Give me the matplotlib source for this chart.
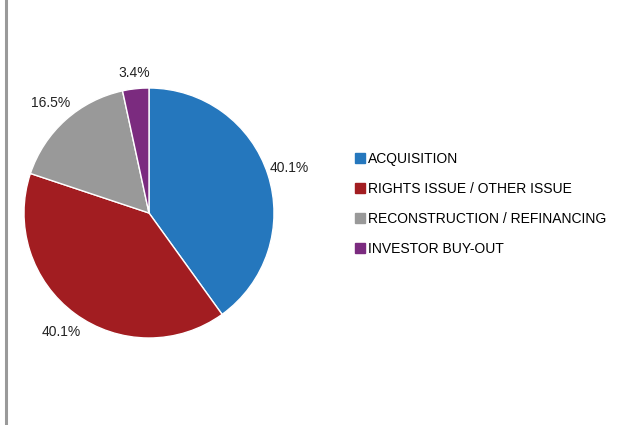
import matplotlib
matplotlib.use("Agg")
import matplotlib.pyplot as plt
from matplotlib.lines import Line2D

categories = ["ACQUISITION", "RIGHTS ISSUE / OTHER ISSUE",
              "RECONSTRUCTION / REFINANCING", "INVESTOR BUY-OUT"]
shares = [40.1, 40.1, 16.5, 3.4]
colors = ["#2577BD", "#A21D21", "#999999", "#7B2B7F"]

plt.rcParams["font.family"] = ["Liberation Sans", "DejaVu Sans"]

fig = plt.figure(figsize=(6.31, 4.25), dpi=100)

# grey frame line on the left edge
fig.add_artist(Line2D([5.5 / 631, 5.5 / 631], [0, 1], color="#9a9a9a", lw=2.2,
                      transform=fig.transFigure))

ax = fig.add_axes([24 / 631, 87 / 425, 250 / 631, 250 / 425])
wedges, texts, pcts = ax.pie(
    shares, colors=colors, startangle=90, counterclock=False,
    autopct=lambda p: "%.1f%%" % p, pctdistance=1.18,
    wedgeprops=dict(edgecolor="white", linewidth=1),
    textprops=dict(fontsize=10, color="#222222"))
for t in pcts:
    t.set_clip_on(False)
# the small slice label sits a bit closer to the pie
x, y = pcts[3].get_position()
pcts[3].set_position((x * 1.13 / 1.18, y * 1.13 / 1.18))
ax.set_xlim(-1, 1)
ax.set_ylim(-1, 1)
ax.set_aspect("equal")

handles = [Line2D([], [], marker="s", ls="none", markersize=7,
                  color=c) for c in colors]
fig.legend(handles, categories, loc="upper left",
           bbox_to_anchor=(350 / 631, 1 - 146 / 425), frameon=False,
           fontsize=10, handlelength=0.7, handletextpad=0.2,
           labelspacing=1.17, borderaxespad=0)

fig.savefig("out.png", dpi=100)
